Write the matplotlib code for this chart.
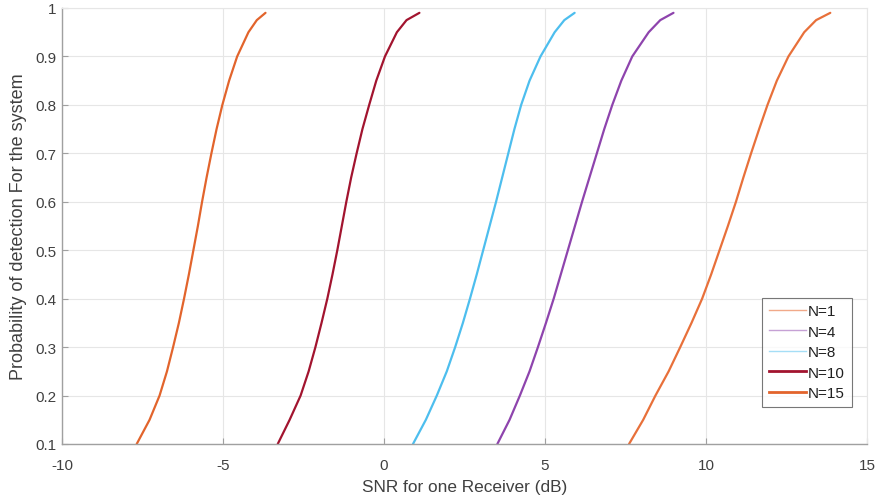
import matplotlib
matplotlib.use("Agg")
import matplotlib.pyplot as plt
from matplotlib.lines import Line2D

plt.rcParams['font.family'] = ['Liberation Sans', 'DejaVu Sans']
plt.rcParams['axes.unicode_minus'] = False

pd_levels = [0.1, 0.15, 0.2, 0.25, 0.3, 0.35, 0.4, 0.45, 0.5, 0.55, 0.6,
             0.65, 0.7, 0.75, 0.8, 0.85, 0.9, 0.95, 0.975, 0.99]

snr_n1 = [7.61, 8.05, 8.43, 8.84, 9.20, 9.55, 9.88, 10.16, 10.42, 10.68, 10.93,
          11.16, 11.40, 11.65, 11.91, 12.20, 12.56, 13.05, 13.42, 13.86]
snr_n4 = [3.52, 3.90, 4.22, 4.52, 4.78, 5.03, 5.27, 5.49, 5.71, 5.93, 6.15,
          6.38, 6.61, 6.84, 7.09, 7.37, 7.71, 8.22, 8.58, 8.99]
snr_n8 = [0.90, 1.30, 1.64, 1.95, 2.21, 2.45, 2.67, 2.88, 3.08, 3.28, 3.48,
          3.67, 3.86, 4.05, 4.26, 4.52, 4.86, 5.30, 5.60, 5.92]
snr_n10 = [-3.30, -2.93, -2.59, -2.34, -2.13, -1.94, -1.76, -1.60, -1.45, -1.31, -1.17,
           -1.02, -0.85, -0.67, -0.46, -0.24, 0.03, 0.40, 0.70, 1.10]
snr_n15 = [-7.68, -7.28, -6.97, -6.74, -6.55, -6.37, -6.21, -6.06, -5.92, -5.78, -5.65,
           -5.51, -5.36, -5.20, -5.02, -4.81, -4.56, -4.21, -3.95, -3.68]

labels = ['N=1', 'N=4', 'N=8', 'N=10', 'N=15']
series = [snr_n1, snr_n4, snr_n8, snr_n10, snr_n15]
colors = ['#E8703A', '#8E44AD', '#4DBEEE', '#A2142F', '#E2642C']

xticks = [-10, -5, 0, 5, 10, 15]
yticks = [0.1, 0.2, 0.3, 0.4, 0.5, 0.6, 0.7, 0.8, 0.9, 1.0]
ytick_labels = ['0.1', '0.2', '0.3', '0.4', '0.5', '0.6', '0.7', '0.8', '0.9', '1']

fig = plt.figure(figsize=(8.81, 5.02), dpi=100)
ax = fig.add_axes([62/881, 1-445/502, (867-62)/881, (445-9)/502])

for xs, lab, col in zip(series, labels, colors):
    ax.plot(xs, pd_levels, color=col, lw=1.6, label=lab,
            solid_capstyle='round', solid_joinstyle='round')

ax.set_xlim(-10, 15)
ax.set_ylim(0.1, 1.0)
ax.set_xticks(xticks)
ax.set_yticks(yticks)
ax.set_yticklabels(ytick_labels)
ax.grid(True, color='#e6e6e6', lw=0.8)
ax.set_axisbelow(True)

for side in ['top', 'right']:
    ax.spines[side].set_color('#e6e6e6')
    ax.spines[side].set_linewidth(0.8)
for side in ['bottom', 'left']:
    ax.spines[side].set_color('#a0a0a0')
    ax.spines[side].set_linewidth(1.0)

ax.tick_params(direction='in', length=4, width=0.8, color='#a0a0a0',
               labelcolor='#404040', labelsize=11)
ax.tick_params(axis='x', pad=10)
ax.tick_params(axis='y', pad=4)
ax.tick_params(top=False, right=False)

ax.set_xlabel('SNR for one Receiver (dB)', fontsize=12.4, color='#404040', labelpad=5)
ax.set_ylabel('Probability of detection For the system', fontsize=13, color='#404040', labelpad=6)

handles = []
lw_leg = [1.0, 1.0, 1.0, 2.0, 2.0]
alpha_leg = [0.6, 0.5, 0.5, 1.0, 1.0]
for lab, col, lw, a in zip(labels, colors, lw_leg, alpha_leg):
    handles.append(Line2D([0], [0], color=col, lw=lw, alpha=a, label=lab))

leg = ax.legend(handles=handles, loc='lower right', bbox_to_anchor=(0.981, 0.085),
                fontsize=11, frameon=True, fancybox=False, handlelength=2.4,
                borderpad=0.45, labelspacing=0.42, handletextpad=0.15,
                borderaxespad=0.0)
leg.get_frame().set_edgecolor('#555555')
leg.get_frame().set_linewidth(0.8)
for t in leg.get_texts():
    t.set_color('#202020')

fig.savefig('out.png', dpi=100)
